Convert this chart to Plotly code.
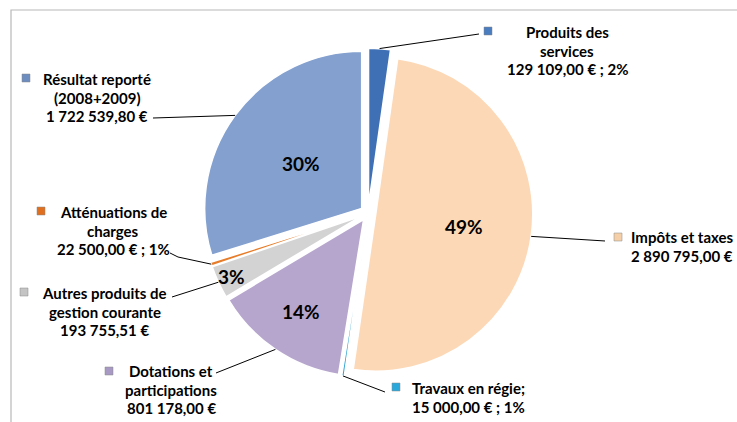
import math
import plotly.graph_objects as go

W, H = 737, 422

# ---------------- data ----------------
categories = [
    "Produits des services",
    "Impôts et taxes",
    "Travaux en régie",
    "Dotations et participations",
    "Autres produits de gestion courante",
    "Atténuations de charges",
    "Résultat reporté (2008+2009)",
]
values = [129109.00, 2890795.00, 15000.00, 801178.00, 193755.51, 22500.00, 1722539.80]
pct_labels = ["", "49%", "", "14%", "3%", "", "30%"]
callout_lines = [
    ["Produits des", "services", "129 109,00 € ; 2%"],
    ["Impôts et taxes", "2 890 795,00 €"],
    ["Travaux en régie;", "15 000,00 € ; 1%"],
    ["Dotations et", "participations", "801 178,00 €"],
    ["Autres produits de", "gestion courante", "193 755,51 €"],
    ["Atténuations de", "charges", "22 500,00 € ; 1%"],
    ["Résultat reporté", "(2008+2009)", "1 722 539,80 €"],
]

# ---------------- style / layout ----------------
colors = ["#3f70b5", "#fdd8b6", "#2fa2d2", "#b6a5cd", "#d3d3d3", "#e77d2a", "#83a0cf"]
key_colors = ["#4a7cc0", "#f5cfa8", "#2aa8dc", "#a898c4", "#c4c4c4", "#e07020", "#6d8cbf"]
FONT = "Lato, 'Open Sans', Arial, sans-serif"
PULL = 0.05
CX, CY, R = 368, 213, 157          # pie centre / radius in pixels
pct_frac = [0, 0.57, 0, 0.71, 0.91, 0, 0.48]
callout_pos = [(567, 32), (682, 237), (468, 388), (171, 371), (105, 293), (113, 212), (97, 79)]
line_step = 18.5
key_pos = [(488, 31), (618, 237), (396, 387), (109, 371), (24, 292), (41, 211), (26, 78)]
line_end = [(479, 34), (605, 241), (385, 392), (216, 373), (172, 297), (170, 253), (153, 118)]
elbow = [None, None, None, None, None, (178, 257), None]


def px(x):
    return x / W


def py(y):
    return 1 - y / H


half = R * (1 + PULL)
domain_x = [(CX - half) / W, (CX + half) / W]
domain_y = [1 - (CY + half) / H, 1 - (CY - half) / H]

total = sum(values)
mids = []
acc = 0.0
for v in values:
    f = v / total
    mids.append((acc + f / 2) * 360)
    acc += f


def polar(theta, rad):
    t = math.radians(theta)
    ox = CX + PULL * R * math.sin(t)
    oy = CY - PULL * R * math.cos(t)
    return ox + rad * math.sin(t), oy - rad * math.cos(t)


fig = go.Figure(
    go.Pie(
        labels=categories,
        values=values,
        sort=False,
        direction="clockwise",
        rotation=0,
        pull=[PULL] * len(values),
        marker=dict(colors=colors, line=dict(color="white", width=1.5)),
        textinfo="none",
        hoverinfo="label+value+percent",
        domain=dict(x=domain_x, y=domain_y),
        showlegend=False,
    )
)

annotations = []
shapes = []

# frame
shapes.append(dict(type="rect", xref="paper", yref="paper",
                   x0=px(11), y0=py(H + 5), x1=px(W + 5), y1=py(10),
                   line=dict(color="#b8b8b8", width=1.2), fillcolor="rgba(0,0,0,0)",
                   layer="below"))

# percentage labels
for i, t in enumerate(pct_labels):
    if not t:
        continue
    x, y = polar(mids[i], pct_frac[i] * R)
    annotations.append(dict(x=px(x), y=py(y), xref="paper", yref="paper",
                            text="<b>%s</b>" % t, showarrow=False,
                            font=dict(family=FONT, size=19, color="black"),
                            xanchor="center", yanchor="middle"))

# callouts
for i, lines in enumerate(callout_lines):
    cx, cy0 = callout_pos[i]
    for j, ln in enumerate(lines):
        annotations.append(dict(x=px(cx), y=py(cy0 + j * line_step), xref="paper", yref="paper",
                                text="<b>%s</b>" % ln, showarrow=False,
                                font=dict(family=FONT, size=15, color="black"),
                                xanchor="center", yanchor="middle"))
    kx, ky = key_pos[i]
    shapes.append(dict(type="rect", xref="paper", yref="paper",
                       x0=px(kx - 4), x1=px(kx + 4), y0=py(ky + 4), y1=py(ky - 4),
                       fillcolor=key_colors[i], line=dict(color="#888888", width=0.5)))
    ax, ay = polar(mids[i], R)
    lx, ly = line_end[i]
    if elbow[i]:
        ex, ey = elbow[i]
        path = "M %f %f L %f %f L %f %f" % (px(lx), py(ly), px(ex), py(ey), px(ax), py(ay))
    else:
        path = "M %f %f L %f %f" % (px(lx), py(ly), px(ax), py(ay))
    shapes.append(dict(type="path", xref="paper", yref="paper", path=path,
                       line=dict(color="black", width=1)))

fig.update_layout(
    width=W, height=H,
    margin=dict(l=0, r=0, t=0, b=0),
    paper_bgcolor="white", plot_bgcolor="white",
    annotations=annotations,
    shapes=shapes,
    font=dict(family=FONT),
)

fig.write_html("out.html", config={"displayModeBar": False},
               post_script="document.body.style.margin='0';")
